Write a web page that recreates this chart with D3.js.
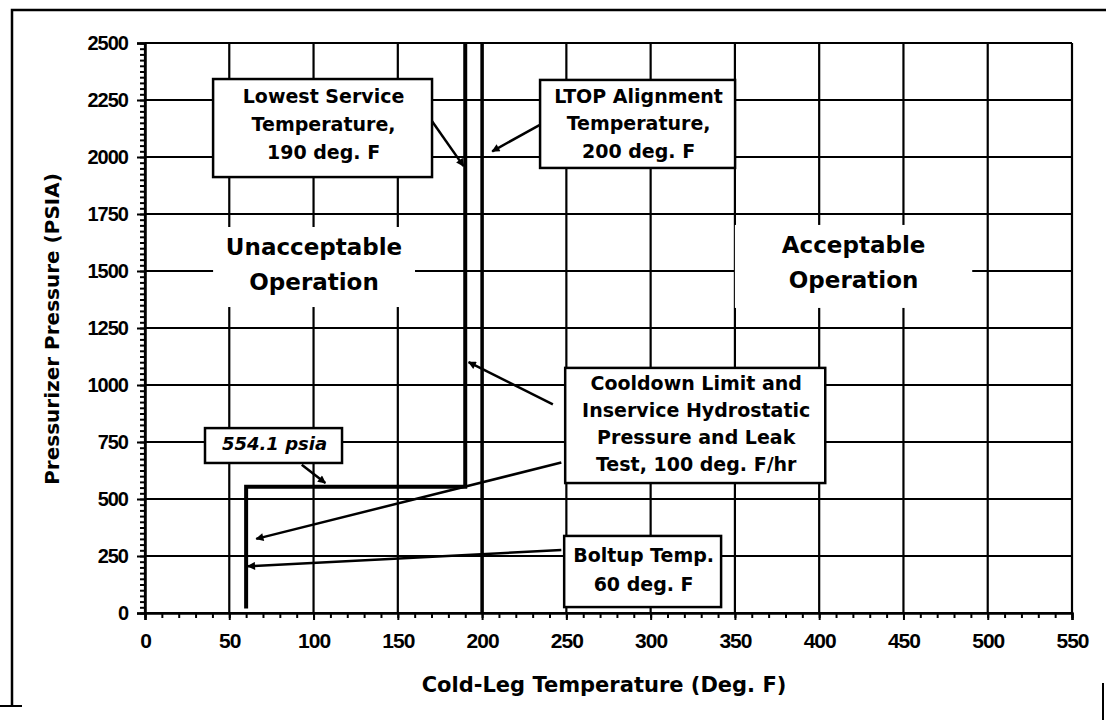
<!DOCTYPE html>
<html>
<head>
<meta charset="utf-8">
<script src="https://cdn.jsdelivr.net/npm/d3@7"></script>
<style>
  body { margin: 0; background: #fff; }
  svg { display: block; }
  .lbl { font-family: "DejaVu Sans", sans-serif; font-weight: bold; fill: #000; }
</style>
</head>
<body>
<script>
// tick values of both axes
var tempTicks = [0, 50, 100, 150, 200, 250, 300, 350, 400, 450, 500, 550];
var pressTicks = [0, 250, 500, 750, 1000, 1250, 1500, 1750, 2000, 2250, 2500];

// cooldown / boltup / lowest service limit curve
var limitTemp = [60, 60, 190, 190];
var limitPress = [20, 554.1, 554.1, 2500];

// LTOP alignment temperature line
var ltopTemp = [200, 200];
var ltopPress = [0, 2500];

// annotation boxes (corners in deg F / psia)
var boxNames = ["service", "ltop", "cooldown", "psia", "boltup"];
var boxTemp0 = [40.4, 234.4, 249.3, 35.6, 248.7];
var boxTemp1 = [170.3, 350.1, 403.6, 116.9, 341.8];
var boxPress0 = [2342, 2338, 1075, 811, 338];
var boxPress1 = [1912, 1952, 570, 658, 26];
var boxLines = [
  ["Lowest Service", "Temperature,", "190 deg. F"],
  ["LTOP Alignment", "Temperature,", "200 deg. F"],
  ["Cooldown Limit and", "Inservice Hydrostatic", "Pressure and Leak", "Test, 100 deg. F/hr"],
  ["554.1 psia"],
  ["Boltup Temp.", "60 deg. F"]
];

// arrows from boxes to the curve (start, end)
var arrowT0 = [170, 234, 242, 247, 93, 247];
var arrowP0 = [2160, 2140, 915, 660, 650, 276];
var arrowT1 = [189, 206, 192, 66, 107, 61];
var arrowP1 = [1960, 2025, 1100, 325, 570, 205];

// region labels
var regionText = [["Unacceptable", "Operation"], ["Acceptable", "Operation"]];
var regionT0 = [40.4, 350];
var regionT1 = [160.2, 490.8];
var regionP0 = [1693, 1702];
var regionP1 = [1342, 1338];

window.onload = function() {
  draw();
};

function draw() {
  var width = 1106;
  var height = 720;
  var mLeft = 145, mRight = 1072, mTop = 43, mBottom = 613;
  var tickFont = "'Liberation Sans', Arial, sans-serif";

  var svg = d3.select("body").append("svg")
    .attr("width", width)
    .attr("height", height);

  svg.append("defs").append("marker")
    .attr("id", "head")
    .attr("viewBox", "0 0 10 10")
    .attr("refX", 9).attr("refY", 5)
    .attr("markerWidth", 10).attr("markerHeight", 8)
    .attr("markerUnits", "userSpaceOnUse")
    .attr("orient", "auto")
    .append("path")
    .attr("d", "M0,0 L10,5 L0,10 Z")
    .attr("fill", "#000");

  // outer frame (partly cut off in the scan)
  svg.append("path")
    .attr("d", "M12,706 L12,10 L1106,10")
    .attr("fill", "none").attr("stroke", "#000").attr("stroke-width", 2.5);
  svg.append("path")
    .attr("d", "M0,706 L22,706 M1103,683 L1103,720")
    .attr("fill", "none").attr("stroke", "#000").attr("stroke-width", 2);

  var x = d3.scaleLinear().domain([0, 550]).range([mLeft, mRight]);
  var y = d3.scaleLinear().domain([0, 2500]).range([mBottom, mTop]);

  // grid
  var grid = svg.append("g").attr("stroke", "#000").attr("stroke-width", 2.2);
  grid.selectAll(".vg").data(tempTicks).enter().append("line")
    .attr("x1", function(d) { return x(d); }).attr("x2", function(d) { return x(d); })
    .attr("y1", y(0)).attr("y2", y(2500));
  grid.selectAll(".hg").data(pressTicks).enter().append("line")
    .attr("x1", x(0)).attr("x2", x(550))
    .attr("y1", function(d) { return y(d); }).attr("y2", function(d) { return y(d); });

  // x axis
  var xAxis = d3.axisBottom(x).tickValues(tempTicks).tickFormat(d3.format("d"))
    .tickSize(7).tickPadding(13);
  var gx = svg.append("g").attr("transform", "translate(0," + mBottom + ")").call(xAxis);
  gx.attr("font-family", tickFont).attr("font-size", 21).attr("font-weight", "bold");
  gx.select(".domain").attr("stroke-width", 2.5);
  gx.selectAll(".tick line").attr("stroke-width", 2);
  gx.selectAll(".tick text").attr("letter-spacing", -1);

  var xMinor = d3.axisBottom(x).tickValues(d3.range(0, 551, 10)).tickSize(5).tickFormat("");
  svg.append("g").attr("transform", "translate(0," + mBottom + ")").call(xMinor)
    .call(function(g) { g.select(".domain").remove(); g.selectAll("line").attr("stroke-width", 2); });

  // y axis
  var yAxis = d3.axisLeft(y).tickValues(pressTicks).tickFormat(d3.format("d"))
    .tickSize(8).tickPadding(9);
  var gy = svg.append("g").attr("transform", "translate(" + mLeft + ",0)").call(yAxis);
  gy.attr("font-family", tickFont).attr("font-size", 20).attr("font-weight", "bold");
  gy.select(".domain").attr("stroke-width", 2.5);
  gy.selectAll(".tick line").attr("stroke-width", 2);
  gy.selectAll(".tick text").attr("letter-spacing", -1);

  var yMinor = d3.axisLeft(y).tickValues(d3.range(0, 2501, 25)).tickSize(5).tickFormat("");
  svg.append("g").attr("transform", "translate(" + mLeft + ",0)").call(yMinor)
    .call(function(g) { g.select(".domain").remove(); g.selectAll("line").attr("stroke-width", 2); });

  // axis titles
  svg.append("text").attr("class", "lbl")
    .attr("font-size", 21).attr("text-anchor", "middle")
    .attr("x", 604).attr("y", 692)
    .text("Cold-Leg Temperature (Deg. F)");
  svg.append("text").attr("class", "lbl")
    .attr("font-size", 20).attr("text-anchor", "middle")
    .attr("transform", "translate(59,329) rotate(-90)")
    .text("Pressurizer Pressure (PSIA)");

  // region labels on white patches
  regionText.forEach(function(lines, i) {
    var x0 = x(regionT0[i]), x1 = x(regionT1[i]);
    var y0 = y(regionP0[i]), y1 = y(regionP1[i]);
    svg.append("rect").attr("x", x0).attr("y", y0)
      .attr("width", x1 - x0).attr("height", y1 - y0).attr("fill", "#fff");
    lines.forEach(function(t, j) {
      svg.append("text").attr("class", "lbl")
        .attr("font-size", 23).attr("text-anchor", "middle")
        .attr("x", (x0 + x1) / 2).attr("y", y0 + 28 + j * 35)
        .text(t);
    });
  });

  // limit lines
  var line = d3.line().x(function(d) { return x(d[0]); }).y(function(d) { return y(d[1]); });
  svg.append("path")
    .datum(d3.zip(ltopTemp, ltopPress))
    .attr("d", line).attr("fill", "none").attr("stroke", "#000").attr("stroke-width", 3.5);
  svg.append("path")
    .datum(d3.zip(limitTemp, limitPress))
    .attr("d", line).attr("fill", "none").attr("stroke", "#000").attr("stroke-width", 4)
    .attr("stroke-linejoin", "miter");

  // arrows
  arrowT0.forEach(function(t, i) {
    svg.append("line")
      .attr("x1", x(t)).attr("y1", y(arrowP0[i]))
      .attr("x2", x(arrowT1[i])).attr("y2", y(arrowP1[i]))
      .attr("stroke", "#000").attr("stroke-width", 2.5)
      .attr("marker-end", "url(#head)");
  });

  // annotation boxes
  var firstBase = [24, 23, 22, 22, 26];
  var lineGap = [28, 27.5, 27, 0, 29];
  boxNames.forEach(function(name, i) {
    var x0 = x(boxTemp0[i]), x1 = x(boxTemp1[i]);
    var y0 = y(boxPress0[i]), y1 = y(boxPress1[i]);
    svg.append("rect").attr("x", x0).attr("y", y0)
      .attr("width", x1 - x0).attr("height", y1 - y0)
      .attr("fill", "#fff").attr("stroke", "#000").attr("stroke-width", 2.5);
    boxLines[i].forEach(function(t, j) {
      svg.append("text").attr("class", "lbl")
        .attr("font-size", name == "psia" ? 18 : 19)
        .attr("font-style", name == "psia" ? "italic" : null)
        .attr("text-anchor", "middle")
        .attr("x", (x0 + x1) / 2 + 1)
        .attr("y", y0 + firstBase[i] + j * lineGap[i])
        .text(t);
    });
  });
}
</script>
</body>
</html>
